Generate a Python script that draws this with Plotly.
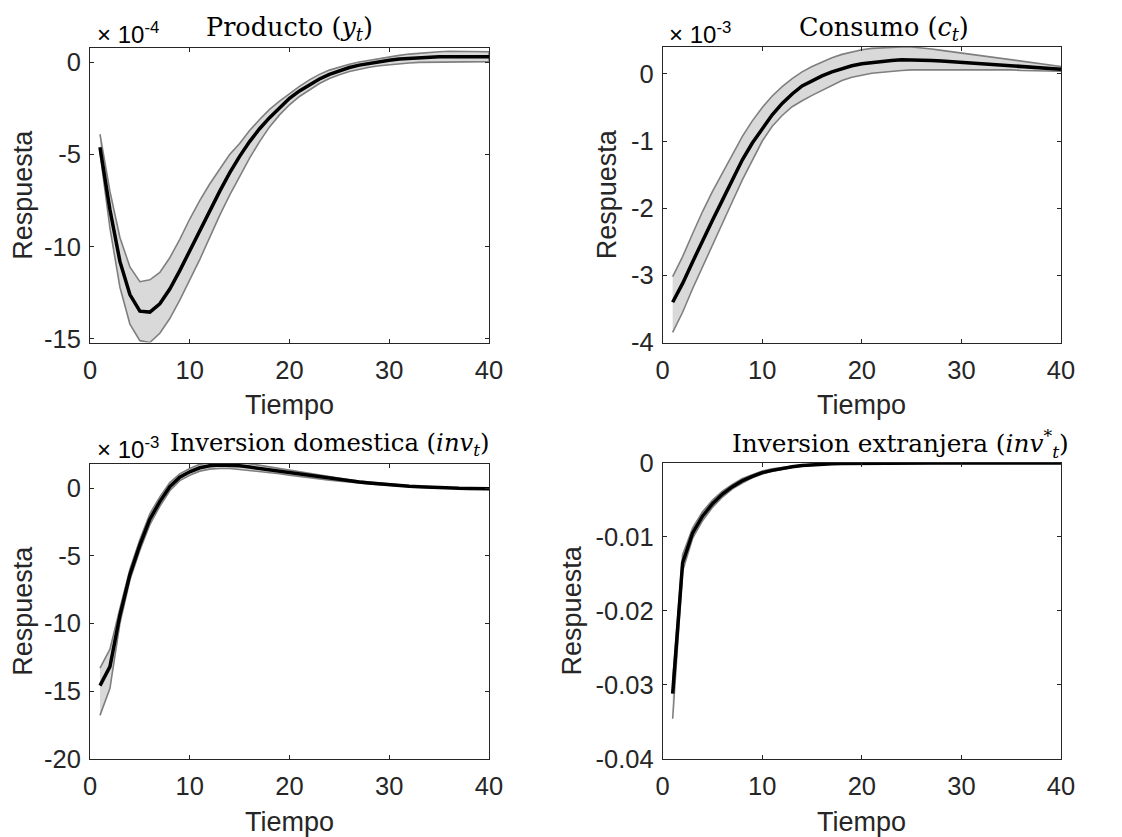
import plotly.graph_objects as go

REF_W, REF_H = 1122, 837
OFF = 8  # browser body margin
W, H = REF_W - OFF, REF_H - OFF
t = list(range(1, 41))

# Producto (x1e-4)
y_mean = [-4.6, -8.0, -10.8, -12.6, -13.5, -13.55, -13.1, -12.3, -11.3, -10.2,
          -9.1, -8.0, -7.0, -6.0, -5.1, -4.3, -3.6, -3.0, -2.45, -1.95,
          -1.55, -1.2, -0.9, -0.65, -0.45, -0.28, -0.15, -0.05, 0.05, 0.12,
          0.18, 0.22, 0.26, 0.28, 0.30, 0.31, 0.31, 0.31, 0.30, 0.30]
y_up = [-3.9, -7.0, -9.5, -11.1, -11.9, -11.8, -11.4, -10.6, -9.6, -8.5,
        -7.5, -6.6, -5.8, -5.0, -4.4, -3.7, -3.1, -2.55, -2.1, -1.7,
        -1.3, -0.95, -0.65, -0.42, -0.25, -0.1, 0.02, 0.12, 0.22, 0.3,
        0.38, 0.45, 0.5, 0.55, 0.58, 0.6, 0.6, 0.6, 0.6, 0.58]
y_lo = [-4.9, -9.0, -12.2, -14.2, -15.1, -15.2, -14.7, -13.9, -12.9, -11.8,
        -10.7, -9.5, -8.3, -7.2, -6.2, -5.2, -4.3, -3.5, -2.85, -2.3,
        -1.85, -1.48, -1.15, -0.88, -0.67, -0.5, -0.36, -0.26, -0.18, -0.12,
        -0.07, -0.03, 0.0, 0.02, 0.03, 0.04, 0.04, 0.04, 0.04, 0.04]

# Consumo (x1e-3)
c_mean = [-3.4, -3.12, -2.8, -2.48, -2.18, -1.88, -1.58, -1.28, -1.03, -0.81,
          -0.61, -0.44, -0.3, -0.18, -0.1, -0.03, 0.03, 0.08, 0.12, 0.15,
          0.17, 0.19, 0.2, 0.21, 0.21, 0.21, 0.2, 0.19, 0.18, 0.17,
          0.16, 0.15, 0.14, 0.12, 0.11, 0.1, 0.09, 0.08, 0.08, 0.07]
c_up = [-3.02, -2.72, -2.38, -2.05, -1.75, -1.47, -1.19, -0.93, -0.7, -0.5,
        -0.33, -0.19, -0.07, 0.03, 0.11, 0.18, 0.24, 0.29, 0.33, 0.36,
        0.38, 0.39, 0.4, 0.4, 0.4, 0.39, 0.37, 0.35, 0.33, 0.31,
        0.29, 0.27, 0.25, 0.23, 0.21, 0.19, 0.17, 0.15, 0.13, 0.11]
c_lo = [-3.85, -3.55, -3.2, -2.88, -2.55, -2.22, -1.9, -1.58, -1.28, -1.0,
        -0.78, -0.62, -0.49, -0.4, -0.32, -0.24, -0.17, -0.1, -0.05, -0.02,
        0.01, 0.03, 0.04, 0.05, 0.06, 0.06, 0.07, 0.07, 0.07, 0.07,
        0.07, 0.06, 0.06, 0.06, 0.06, 0.05, 0.05, 0.05, 0.04, 0.04]

# Inversion domestica (x1e-3)
i_mean = [-14.6, -13.2, -9.4, -6.4, -4.2, -2.3, -1.0, 0.1, 0.8, 1.2,
          1.5, 1.65, 1.7, 1.7, 1.65, 1.55, 1.45, 1.35, 1.25, 1.12,
          1.0, 0.9, 0.8, 0.7, 0.6, 0.52, 0.44, 0.37, 0.3, 0.24,
          0.18, 0.13, 0.09, 0.05, 0.02, 0.0, -0.02, -0.03, -0.04, -0.05]
i_up = [-13.3, -11.9, -8.9, -6.0, -3.8, -1.9, -0.65, 0.4, 1.05, 1.45,
        1.75, 1.9, 1.95, 1.95, 1.9, 1.8, 1.68, 1.56, 1.44, 1.3,
        1.17, 1.05, 0.93, 0.82, 0.71, 0.61, 0.52, 0.44, 0.36, 0.29,
        0.22, 0.16, 0.11, 0.07, 0.04, 0.01, -0.01, -0.02, -0.03, -0.04]
i_lo = [-16.8, -14.8, -10.0, -6.8, -4.6, -2.7, -1.35, -0.2, 0.55, 0.95,
        1.25, 1.4, 1.45, 1.45, 1.4, 1.3, 1.22, 1.14, 1.06, 0.95,
        0.84, 0.75, 0.67, 0.58, 0.5, 0.43, 0.36, 0.3, 0.24, 0.19,
        0.14, 0.1, 0.07, 0.03, 0.0, -0.01, -0.03, -0.04, -0.05, -0.06]

# Inversion extranjera
e_mean = [-0.0312, -0.0135, -0.0095, -0.0072, -0.0055, -0.0042, -0.0032, -0.0024, -0.0018, -0.0013,
          -0.001, -0.0007, -0.0005, -0.00035, -0.00024, -0.00016, -0.0001, -0.00007, -0.00005, -0.00003,
          -0.00002, -0.00001, 0, 0, 0, 0, 0, 0, 0, 0,
          0, 0, 0, 0, 0, 0, 0, 0, 0, 0]
e_up = [-0.0295, -0.0124, -0.0088, -0.0066, -0.005, -0.0038, -0.0029, -0.0021, -0.0016, -0.0011,
        -0.0008, -0.0006, -0.0004, -0.00028, -0.00019, -0.00012, -0.00008, -0.00005, -0.00003, -0.00002,
        -0.00001, 0, 0, 0, 0, 0, 0, 0, 0, 0,
        0, 0, 0, 0, 0, 0, 0, 0, 0, 0]
e_lo = [-0.0346, -0.0146, -0.0102, -0.0078, -0.006, -0.0046, -0.0035, -0.0027, -0.002, -0.0015,
        -0.0011, -0.0008, -0.0006, -0.00042, -0.0003, -0.0002, -0.00013, -0.00009, -0.00006, -0.00004,
        -0.00003, -0.00002, -0.00001, 0, 0, 0, 0, 0, 0, 0,
        0, 0, 0, 0, 0, 0, 0, 0, 0, 0]

panels = [
    dict(mean=y_mean, up=y_up, lo=y_lo, yr=[-15.2, 0.78], ytv=[-15, -10, -5, 0],
         ytt=["-15", "-10", "-5", "0"], box=(90, 489, 48, 342.5)),
    dict(mean=c_mean, up=c_up, lo=c_lo, yr=[-4, 0.4], ytv=[-4, -3, -2, -1, 0],
         ytt=["-4", "-3", "-2", "-1", "0"], box=(662.7, 1061, 47, 342.5)),
    dict(mean=i_mean, up=i_up, lo=i_lo, yr=[-20, 1.8], ytv=[-20, -15, -10, -5, 0],
         ytt=["-20", "-15", "-10", "-5", "0"], box=(90, 489, 463.7, 758.7)),
    dict(mean=e_mean, up=e_up, lo=e_lo, yr=[-0.04, 0], ytv=[-0.04, -0.03, -0.02, -0.01, 0],
         ytt=["-0.04", "-0.03", "-0.02", "-0.01", "0"], box=(662.7, 1061, 463, 758.7)),
]

def px(x):
    return (x - OFF) / W

def py(y):
    return 1 - (y - OFF) / H

fig = go.Figure()
TXT = "#262626"
SANS = "Liberation Sans, Arial, sans-serif"
SERIF = "DejaVu Serif"

for k, p in enumerate(panels, start=1):
    xa = "x" if k == 1 else f"x{k}"
    ya = "y" if k == 1 else f"y{k}"
    fig.add_trace(go.Scatter(
        x=t + t[::-1], y=p["up"] + p["lo"][::-1], fill="toself",
        fillcolor="#d9d9d9", line=dict(color="#7f7f7f", width=1.6),
        mode="lines", xaxis=xa, yaxis=ya, showlegend=False, hoverinfo="skip"))
    fig.add_trace(go.Scatter(
        x=t, y=p["mean"], mode="lines", line=dict(color="black", width=3.5),
        xaxis=xa, yaxis=ya, showlegend=False))
    x0, x1, y0, y1 = p["box"]
    common = dict(showline=True, linecolor=TXT, linewidth=1, mirror="ticks",
                  ticks="inside", ticklen=4, tickcolor=TXT, showgrid=False,
                  zeroline=False, automargin=False,
                  tickfont=dict(family=SANS, size=25.5, color=TXT))
    fig.update_layout(**{
        f"xaxis{'' if k == 1 else k}": dict(
            domain=[px(x0), px(x1)], range=[0, 40], tickvals=[0, 10, 20, 30, 40],
            anchor=ya, ticklabelstandoff=5, **common),
        f"yaxis{'' if k == 1 else k}": dict(
            domain=[py(y1), py(y0)], range=p["yr"], tickvals=p["ytv"], ticktext=p["ytt"],
            anchor=xa, title=dict(text="Respuesta", font=dict(family=SANS, size=27, color=TXT), standoff=6),
            ticklabelstandoff=3, **common),
    })
    # x-axis title "Tiempo"
    fig.add_annotation(text="Tiempo", x=px((x0 + x1) / 2), y=py(y1 + 63), xref="paper", yref="paper",
                       xanchor="center", yanchor="middle", showarrow=False,
                       font=dict(family=SANS, size=27, color=TXT))

annos = [
    ("× 10<sup>-4</sup>", 95, 33, "left", SANS, 24),
    ("Producto (<i>y</i><sub><i>t</i></sub>)", 289.5, 28, "center", SERIF, 25.5),
    ("× 10<sup>-3</sup>", 667, 33, "left", SANS, 24),
    ("Consumo (<i>c</i><sub><i>t</i></sub>)", 884, 28, "center", SERIF, 25.5),
    ("× 10<sup>-3</sup>", 95, 448, "left", SANS, 24),
    ("Inversion domestica (<i>inv</i><sub><i>t</i></sub>)", 330, 444, "center", SERIF, 24.3),
    ("Inversion extranjera (<i>inv</i><sup>*</sup><sub><i>t</i></sub>)", 900, 444, "center", SERIF, 24.8),
]
for text, x, y, anchor, fam, size in annos:
    fig.add_annotation(text=text, x=px(x), y=py(y), xref="paper", yref="paper",
                       xanchor=anchor, yanchor="middle", showarrow=False,
                       font=dict(family=fam, size=size, color="black"))

fig.update_layout(width=W, height=H, margin=dict(l=0, r=0, t=0, b=0, autoexpand=False),
                  paper_bgcolor="white", plot_bgcolor="white", showlegend=False)
fig.write_html("out.html")
